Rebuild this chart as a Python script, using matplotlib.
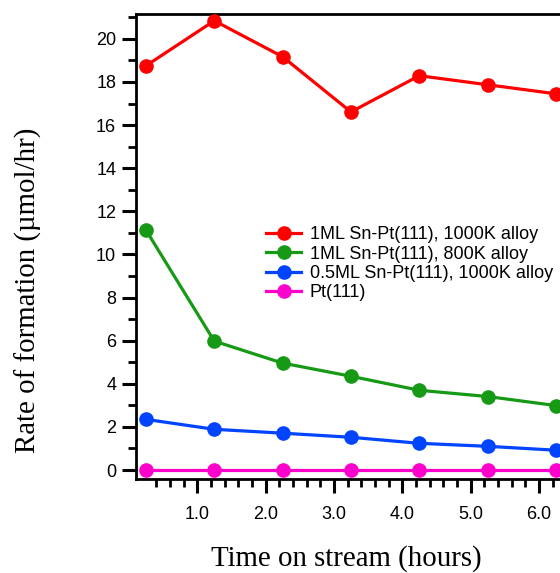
import matplotlib.pyplot as plt
import numpy as np
from matplotlib.ticker import MultipleLocator, FixedLocator

# data
hours = [0.25, 1.25, 2.25, 3.25, 4.25, 5.25, 6.25]
sn1_1000k = [18.75, 20.84, 19.17, 16.61, 18.29, 17.87, 17.45]
sn1_800k = [11.13, 5.98, 4.96, 4.35, 3.70, 3.41, 2.99]
sn05_1000k = [2.35, 1.89, 1.71, 1.52, 1.24, 1.10, 0.92]
pt111 = [0, 0, 0, 0, 0, 0, 0]
labels = ['1ML Sn-Pt(111), 1000K alloy', '1ML Sn-Pt(111), 800K alloy',
          '0.5ML Sn-Pt(111), 1000K alloy', 'Pt(111)']
colors = ['#ff0000', '#169a16', '#0044ff', '#ff00cc']

sans = ['Liberation Sans', 'DejaVu Sans']
serif = ['Liberation Serif', 'DejaVu Serif']

fig = plt.figure(figsize=(5.6, 5.73), dpi=100)
# axes run past the right edge of the figure, like the reference
ax = fig.add_axes([0.2423, 0.1635, 0.781, 0.812])

for ys, lab, c in zip([sn1_1000k, sn1_800k, sn05_1000k, pt111], labels, colors):
    ax.plot(hours, ys, color=c, lw=2.3, marker='o', ms=9.5, label=lab, clip_on=False, zorder=3)

ax.set_xlim(0.1, 6.5)
ax.set_ylim(-0.43, 21.15)
ax.set_xticks([1, 2, 3, 4, 5, 6])
ax.set_xticklabels(['1.0', '2.0', '3.0', '4.0', '5.0', '6.0'])
minor_x = [v for v in np.round(np.arange(0.4, 6.5, 0.2), 1) if v % 1 != 0]
ax.xaxis.set_minor_locator(FixedLocator(minor_x))
ax.yaxis.set_major_locator(MultipleLocator(2))
ax.yaxis.set_minor_locator(MultipleLocator(1))

for s in ax.spines.values():
    s.set_linewidth(2)
ax.spines['right'].set_visible(False)

ax.tick_params(which='major', length=10, width=2.2, direction='out', labelsize=13)
ax.tick_params(which='minor', length=5.5, width=2, direction='out')
ax.tick_params(axis='y', which='major', pad=4)
ax.tick_params(axis='x', which='major', pad=9)
for t in ax.get_xticklabels() + ax.get_yticklabels():
    t.set_family(sans)

fig.text(0.618, 0.026, 'Time on stream (hours)', family=serif, fontsize=20.8,
         ha='center', va='center')
fig.text(0.05, 0.494, 'Rate of formation (µmol/hr)', family=serif, fontsize=20.8,
         ha='center', va='center', rotation=90)

leg = ax.legend(loc='upper left', bbox_to_anchor=(0.299, 0.544), frameon=False,
                prop={'family': sans, 'size': 13}, handlelength=1.9,
                handletextpad=0.5, labelspacing=0.13, borderaxespad=0, borderpad=0)

fig.savefig('out.png', dpi=100)
